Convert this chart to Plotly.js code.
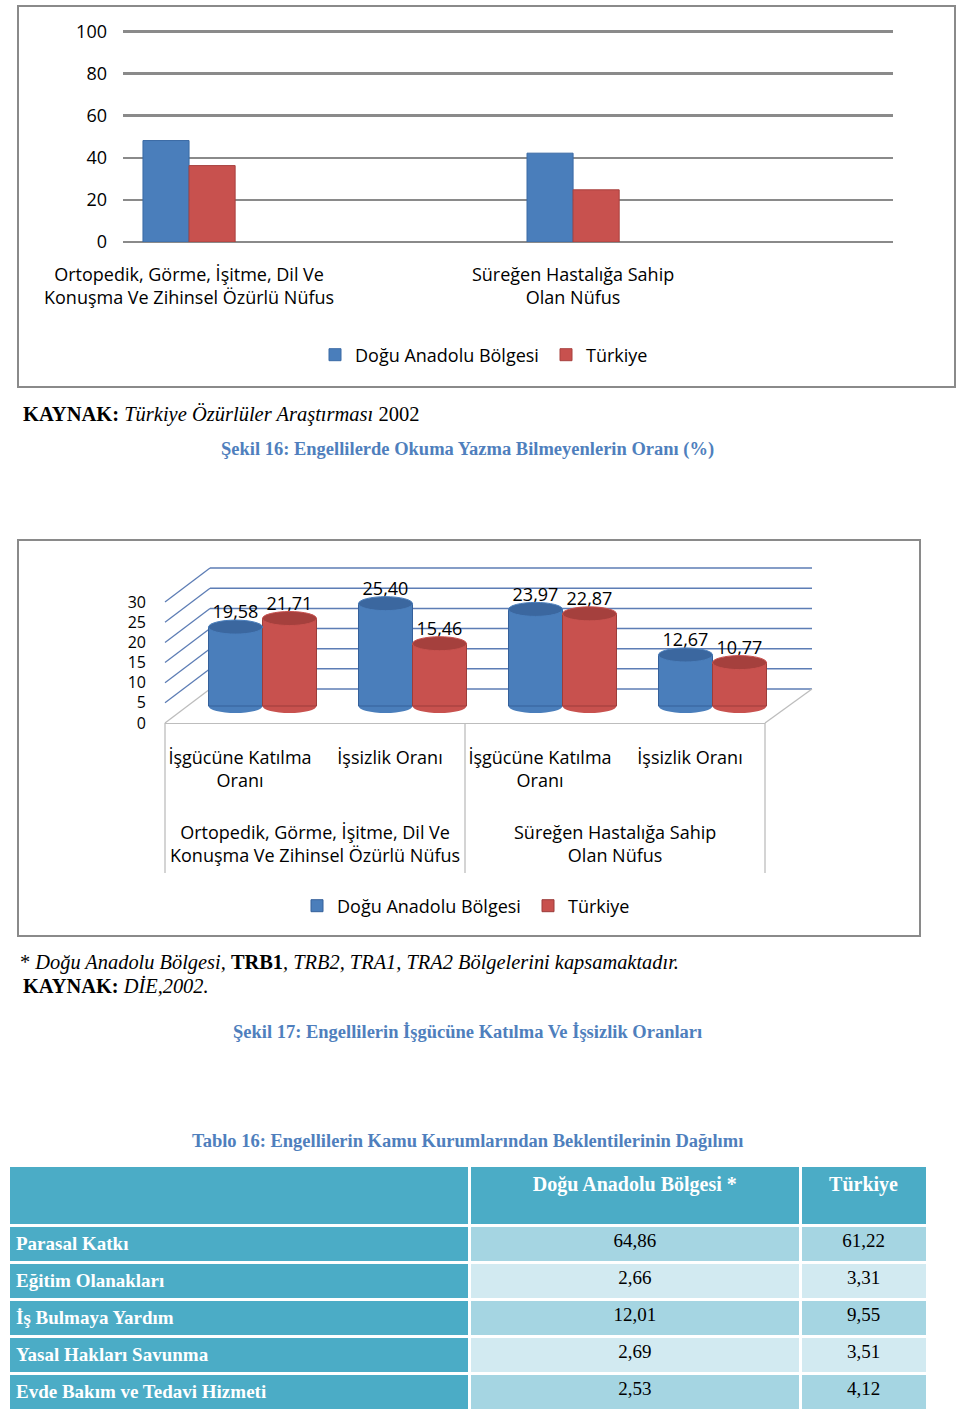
<!DOCTYPE html>
<html><head><meta charset="utf-8">
<script src="https://cdn.plot.ly/plotly-3.0.1.min.js"></script>
<style>html,body{margin:0;padding:0;background:#fff;} #page{width:960px;height:1416px;}</style>
</head><body><div id="page"></div>
<script>
// ---------------- DATA ----------------
const seriesNames = ['Doğu Anadolu Bölgesi', 'Türkiye'];

const chart1Categories = ['Ortopedik, Görme, İşitme, Dil Ve<br>Konuşma Ve Zihinsel Özürlü Nüfus', 'Süreğen Hastalığa Sahip<br>Olan Nüfus'];
const chart1Dogu = [48.2, 42.2];
const chart1Turkiye = [36.3, 24.8];
const chart1YTicks = [0, 20, 40, 60, 80, 100];

const chart2Groups = ['Ortopedik, Görme, İşitme, Dil Ve<br>Konuşma Ve Zihinsel Özürlü Nüfus', 'Süreğen Hastalığa Sahip<br>Olan Nüfus'];
const chart2SubLabels = ['İşgücüne Katılma<br>Oranı', 'İşsizlik Oranı', 'İşgücüne Katılma<br>Oranı', 'İşsizlik Oranı'];
const chart2GroupOf = [0, 0, 1, 1];
const chart2Dogu = [19.58, 25.40, 23.97, 12.67];
const chart2Turkiye = [21.71, 15.46, 22.87, 10.77];
const chart2YTicks = [0, 5, 10, 15, 20, 25, 30];

const tableHeader = ['', 'Doğu Anadolu Bölgesi *', 'Türkiye'];
const tableRowLabels = ['Parasal Katkı', 'Eğitim Olanakları', 'İş Bulmaya Yardım', 'Yasal Hakları Savunma', 'Evde Bakım ve Tedavi Hizmeti'];
const tableDogu = [64.86, 2.66, 12.01, 2.69, 2.53];
const tableTurkiye = [61.22, 3.31, 9.55, 3.51, 4.12];

// ---------------- STYLE / GEOMETRY ----------------
const W = 960, H = 1416;
const fx = p => p / W;
const fy = p => 1 - p / H;
const SANS = 'Open Sans, Noto Sans, sans-serif';
const SERIF = 'Liberation Serif, Times New Roman, serif';
const BLUE = '#4a7ebb', RED = '#c8514e', BLUE_CAP = '#3b679f', RED_CAP = '#a5403d';
const TITLE_BLUE = '#4f7fbd';
const WALL = '#5d7db5', FLOOR = '#bdbdbd';

function yDomain(p0, ppu, r0, r1) { return [fy(p0 - r0 * ppu), fy(p0 - r1 * ppu)]; }
const fmt = v => v.toFixed(2).replace('.', ',');

// chart 1
const c1 = {left: 123, right: 893, p0: 242, ppu: 2.105, range: [0, 102], xr: [-0.172, 1.833]};
// chart 2 planes
const c2 = {
  front: {left: 165, right: 765, p0: 723},
  bars: {left: 187.5, right: 787.5, p0: 706},
  back: {left: 210, right: 812, p0: 689},
  ppu: 4.03, barW: 0.36
};
const capHalf = 7 / c2.ppu;

// ---------------- TRACES ----------------
const traces = [];
traces.push({type: 'bar', x: chart1Categories, y: chart1Dogu, name: seriesNames[0], xaxis: 'x', yaxis: 'y',
  width: 0.12, offset: -0.12, marker: {color: BLUE, line: {color: '#3a6aa5', width: 1}}, legend: 'legend', hoverinfo: 'skip'});
traces.push({type: 'bar', x: chart1Categories, y: chart1Turkiye, name: seriesNames[1], xaxis: 'x', yaxis: 'y',
  width: 0.12, offset: 0, marker: {color: RED, line: {color: '#a8423f', width: 1}}, legend: 'legend2', hoverinfo: 'skip'});

const idx = chart2SubLabels.map((_, i) => i);
traces.push({type: 'bar', x: idx, y: chart2Dogu, name: seriesNames[0], xaxis: 'x3', yaxis: 'y3',
  width: c2.barW, offset: -c2.barW, marker: {color: BLUE, line: {color: '#35609a', width: 1}}, legend: 'legend3', hoverinfo: 'skip'});
traces.push({type: 'bar', x: idx, y: chart2Turkiye, name: seriesNames[1], xaxis: 'x3', yaxis: 'y3',
  width: c2.barW, offset: 0, marker: {color: RED, line: {color: '#9c3d3a', width: 1}}, legend: 'legend4', hoverinfo: 'skip'});
// value labels
[[chart2Dogu, -c2.barW / 2], [chart2Turkiye, c2.barW / 2]].forEach(([vals, off]) => {
  traces.push({type: 'scatter', mode: 'markers+text', x: idx.map(i => i + off), y: vals,
    text: vals.map(fmt), textposition: 'top center', textfont: {family: SANS, size: 18, color: '#000'},
    marker: {size: 5, opacity: 0}, xaxis: 'x3', yaxis: 'y3', showlegend: false, cliponaxis: false, hoverinfo: 'skip'});
});

// table
const lightA = '#a5d5e2', lightB = '#d2eaf1', TEAL = '#4bacc6';
const rowFill = tableRowLabels.map((_, i) => i % 2 === 0 ? lightA : lightB);
traces.push({type: 'table', domain: {x: [fx(8), fx(927)], y: [fy(1416), fy(1165)]},
  columnwidth: [462, 331, 127],
  header: {values: tableHeader.map(h => '<b>' + h + '</b>'), height: 60,
    fill: {color: TEAL}, line: {color: '#fff', width: 3}, align: ['left', 'center', 'center'],
    font: {family: SERIF, size: 20, color: '#fff'}},
  cells: {values: [tableRowLabels.map(t => '<b>' + t + '</b>'), tableDogu.map(fmt), tableTurkiye.map(fmt)],
    height: 37, fill: {color: [tableRowLabels.map(() => TEAL), rowFill, rowFill]},
    line: {color: '#fff', width: 3}, align: ['left', 'center', 'center'],
    font: {family: SERIF, size: 19, color: ['#fff', '#000', '#000']}}
});

// ---------------- SHAPES ----------------
const shapes = [];
// chart borders
shapes.push({type: 'rect', xref: 'paper', yref: 'paper', x0: fx(18), x1: fx(955), y0: fy(6), y1: fy(387), line: {color: '#8a8a8a', width: 2}});
shapes.push({type: 'rect', xref: 'paper', yref: 'paper', x0: fx(18), x1: fx(920), y0: fy(540), y1: fy(936), line: {color: '#8a8a8a', width: 2}});
// chart 2 back wall gridlines and left wall (perspective gridlines)
chart2YTicks.forEach(v => {
  const yb = fy(c2.back.p0 - v * c2.ppu);
  shapes.push({type: 'line', xref: 'paper', yref: 'paper', layer: 'below',
    x0: fx(c2.back.left), y0: yb, x1: fx(c2.back.right), y1: yb,
    line: {color: WALL, width: 1.5}});
  shapes.push({type: 'line', xref: 'paper', yref: 'paper', layer: 'below',
    x0: fx(c2.front.left), y0: fy(c2.front.p0 - v * c2.ppu),
    x1: fx(c2.back.left), y1: yb,
    line: {color: v === 0 ? FLOOR : WALL, width: 1.3}});
});
// floor right edge
shapes.push({type: 'line', xref: 'paper', yref: 'paper', layer: 'below',
  x0: fx(c2.front.right), y0: fy(c2.front.p0), x1: fx(c2.back.right), y1: fy(c2.back.p0),
  line: {color: FLOOR, width: 1.3}});
// group dividers
const frontUnit = (c2.front.right - c2.front.left) / chart2SubLabels.length;
const groupEdges = [0];
chart2GroupOf.forEach((g, i) => { if (i === chart2GroupOf.length - 1 || chart2GroupOf[i + 1] !== g) groupEdges.push(i + 1); });
groupEdges.forEach(e => {
  const px = c2.front.left + e * frontUnit;
  shapes.push({type: 'line', xref: 'paper', yref: 'paper', x0: fx(px), x1: fx(px), y0: fy(c2.front.p0), y1: fy(873),
    line: {color: FLOOR, width: 1.3}});
});
// cylinder caps & bottoms
[[chart2Dogu, -c2.barW, BLUE, BLUE_CAP], [chart2Turkiye, 0, RED, RED_CAP]].forEach(([vals, off, body, cap]) => {
  vals.forEach((v, i) => {
    shapes.push({type: 'circle', xref: 'x3', yref: 'y3', layer: 'below', x0: i + off, x1: i + off + c2.barW,
      y0: -capHalf, y1: capHalf, fillcolor: body, line: {width: 0}});
    shapes.push({type: 'circle', xref: 'x3', yref: 'y3', layer: 'above', x0: i + off, x1: i + off + c2.barW,
      y0: v - capHalf, y1: v + capHalf, fillcolor: cap, line: {color: body, width: 1}});
  });
});

// ---------------- ANNOTATIONS ----------------
const annotations = [];
function note(text, x, y, anchor, size, color) {
  annotations.push({text, xref: 'paper', yref: 'paper', x: fx(x), y: fy(y), xanchor: anchor, yanchor: 'middle',
    showarrow: false, font: {family: SERIF, size, color: color || '#000'}});
}
note('<b>KAYNAK:</b> <i>Türkiye Özürlüler Araştırması</i> 2002', 21, 414, 'left', 20.5);
note('<b>Şekil 16: Engellilerde Okuma Yazma Bilmeyenlerin Oranı (%)</b>', 467, 449, 'center', 18.5, TITLE_BLUE);
note('* <i>Doğu Anadolu Bölgesi, </i><b>TRB1</b><i>, TRB2, TRA1, TRA2 Bölgelerini kapsamaktadır.</i>', 18, 962, 'left', 20.4);
note('<b>KAYNAK:</b> <i>DİE,2002.</i>', 21, 986, 'left', 20.4);
note('<b>Şekil 17: Engellilerin İşgücüne Katılma Ve İşsizlik Oranları</b>', 467, 1032, 'center', 18.5, TITLE_BLUE);
note('<b>Tablo 16: Engellilerin Kamu Kurumlarından Beklentilerinin Dağılımı</b>', 467, 1141, 'center', 18.5, TITLE_BLUE);
// chart 2 group labels
chart2Groups.forEach((g, gi) => {
  const members = idx.filter(i => chart2GroupOf[i] === gi);
  const mid = (members[0] + members[members.length - 1]) / 2;
  annotations.push({text: g, xref: 'x4', yref: 'paper', x: mid, y: fy(843), xanchor: 'center', yanchor: 'middle',
    showarrow: false, font: {family: SANS, size: 18, color: '#000'}});
});

// ---------------- LAYOUT ----------------
const legendBase = {orientation: 'h', xanchor: 'left', yanchor: 'middle', bgcolor: 'rgba(0,0,0,0)',
  font: {family: SANS, size: 18, color: '#000'}};
const layout = {
  width: W, height: H, margin: {l: 0, r: 0, t: 0, b: 0},
  paper_bgcolor: '#fff', plot_bgcolor: 'rgba(0,0,0,0)',
  separators: ',.', showlegend: true, barmode: 'overlay',
  font: {family: SANS, size: 18, color: '#000'},
  // chart 1
  xaxis: {domain: [fx(c1.left), fx(c1.right)], anchor: 'y', type: 'category', range: c1.xr,
    showgrid: false, showline: false, zeroline: false, ticks: '', ticklabelstandoff: 20,
    tickfont: {family: SANS, size: 18, color: '#000'}, fixedrange: true},
  yaxis: {domain: yDomain(c1.p0, c1.ppu, c1.range[0], c1.range[1]), anchor: 'x', range: c1.range,
    tickvals: chart1YTicks, showgrid: true, gridcolor: '#8a8a8a', gridwidth: 2.5,
    zeroline: true, zerolinecolor: '#8a8a8a', zerolinewidth: 2.5, showline: false, ticks: '',
    ticklabelstandoff: 15, tickfont: {family: SANS, size: 18, color: '#000'}, fixedrange: true},
  // chart 2 bars plane
  xaxis3: {domain: [fx(c2.bars.left), fx(c2.bars.right)], anchor: 'y3', range: [-0.5, chart2SubLabels.length - 0.5], visible: false, fixedrange: true},
  yaxis3: {domain: yDomain(c2.bars.p0, c2.ppu, -3, 33), anchor: 'x3', range: [-3, 33], visible: false, fixedrange: true},
  // chart 2 front axis
  xaxis4: {domain: [fx(c2.front.left), fx(c2.front.right)], anchor: 'y4', range: [-0.5, chart2SubLabels.length - 0.5],
    tickvals: idx, ticktext: chart2SubLabels, showgrid: false, zeroline: false, showline: true, linecolor: FLOOR, linewidth: 1.3,
    ticks: '', ticklabelstandoff: 18, tickfont: {family: SANS, size: 18, color: '#000'}, fixedrange: true},
  yaxis4: {domain: yDomain(c2.front.p0, c2.ppu, 0, 30), anchor: 'x4', range: [0, 30], tickvals: chart2YTicks,
    showgrid: false, zeroline: false, showline: false, ticks: '', ticklabelstandoff: 18,
    tickfont: {family: SANS, size: 16, color: '#000'}, fixedrange: true},
  legend: Object.assign({}, legendBase, {x: fx(315), y: fy(355)}),
  legend2: Object.assign({}, legendBase, {x: fx(546), y: fy(355)}),
  legend3: Object.assign({}, legendBase, {x: fx(297), y: fy(906)}),
  legend4: Object.assign({}, legendBase, {x: fx(528), y: fy(906)}),
  shapes, annotations
};

Plotly.newPlot('page', traces, layout, {displayModeBar: false, staticPlot: true});
</script>
</body></html>
